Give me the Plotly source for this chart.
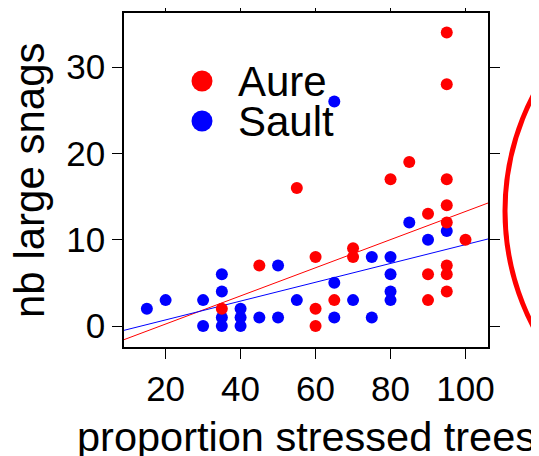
import plotly.graph_objects as go
import numpy as np

# ---- data ----
aure_x = [35, 45, 55, 60, 60, 60, 65, 70, 70, 80, 85, 90, 90, 90, 95, 95, 95, 95, 95, 95, 95, 95, 100]
aure_y = [2, 7, 16, 8, 2, 0, 3, 9, 8, 17, 19, 13, 6, 3, 34, 28, 17, 14, 12, 7, 6, 4, 10]
sault_x = [15, 20, 30, 30, 35, 35, 35, 35, 40, 40, 40, 45, 50, 50, 55, 65, 65, 65, 70, 75, 75, 80, 80, 80, 80, 85, 90, 95]
sault_y = [2, 3, 3, 0, 6, 4, 1, 0, 2, 1, 0, 1, 7, 1, 3, 26, 5, 1, 3, 8, 1, 8, 6, 4, 3, 12, 10, 11]
# fitted lines (intercept, slope)
aure_fit = [-3.03, 0.163]
sault_fit = [-1.47, 0.109]
x_ticks = [20, 40, 60, 80, 100]
y_ticks = [0, 10, 20, 30]
x_range = [8.9, 106.0]
y_range = [-2.43, 36.26]
groups = ["Aure", "Sault"]
colors = ["#ff0000", "#0000ff"]

OFF = 8  # page body margin
W, H = 539, 456 - OFF
L, T = 124 - OFF, 13 - OFF
PW, PH = 364, 334
R, B = W - L - PW, H - T - PH

def px(x):
    # screen pixel -> paper
    return (x - OFF - L) / PW

def py(y):
    return (T + PH - (y - OFF)) / PH

FONT = "Liberation Sans, Arial, sans-serif"

fig = go.Figure()

xs = np.array(x_range)
for (a, b), c in zip([aure_fit, sault_fit], colors):
    fig.add_trace(go.Scatter(x=xs, y=a + b * xs, mode="lines",
                             line=dict(color=c, width=1), hoverinfo="skip"))

for xv, yv, c in [(sault_x, sault_y, colors[1]), (aure_x, aure_y, colors[0])]:
    fig.add_trace(go.Scatter(x=xv, y=yv, mode="markers",
                             marker=dict(color=c, size=12, line=dict(width=0))))

axis_common = dict(showline=True, linecolor="black", linewidth=1.5, mirror="ticks",
                   ticks="outside", ticklen=10, tickwidth=1.2, tickcolor="black",
                   showgrid=False, zeroline=False, automargin=False,
                   tickfont=dict(family=FONT, size=35, color="black"))

fig.update_xaxes(range=x_range, tickvals=x_ticks, ticktext=[str(v) for v in x_ticks], **axis_common)
fig.update_yaxes(range=y_range, tickvals=y_ticks, ticktext=[str(v) for v in y_ticks], **axis_common)

shapes = []
annotations = []
# legend
for i, (g, c) in enumerate(zip(groups, colors)):
    cy = 81 + 40 * i
    cx = 202
    r = 10.5
    shapes.append(dict(type="circle", xref="paper", yref="paper",
                       x0=px(cx - r), x1=px(cx + r), y0=py(cy + r), y1=py(cy - r),
                       fillcolor=c, line=dict(width=0)))
    annotations.append(dict(text=g, xref="paper", yref="paper", x=px(236), y=py(cy),
                            xanchor="left", yanchor="middle", showarrow=False,
                            font=dict(family=FONT, size=42, color="black")))

# big red circle annotation on the right
ccx, ccy, cr = 756, 211, 251
shapes.append(dict(type="circle", xref="paper", yref="paper",
                   x0=px(ccx - cr), x1=px(ccx + cr), y0=py(ccy + cr), y1=py(ccy - cr),
                   line=dict(color="#ff0000", width=5), fillcolor="rgba(0,0,0,0)"))

annotations.append(dict(text="proportion stressed trees", xref="paper", yref="paper",
                        x=px(306), y=py(436), xanchor="center", yanchor="middle",
                        showarrow=False, font=dict(family=FONT, size=41.5, color="black")))
annotations.append(dict(text="nb large snags", xref="paper", yref="paper",
                        x=px(29), y=py(180), xanchor="center", yanchor="middle", textangle=-90,
                        showarrow=False, font=dict(family=FONT, size=42, color="black")))

fig.update_layout(template="none", width=W, height=H,
                  margin=dict(l=L, r=R, t=T, b=B, pad=0, autoexpand=False),
                  plot_bgcolor="white", paper_bgcolor="white", showlegend=False,
                  shapes=shapes, annotations=annotations)

fig.write_html("out.html")
